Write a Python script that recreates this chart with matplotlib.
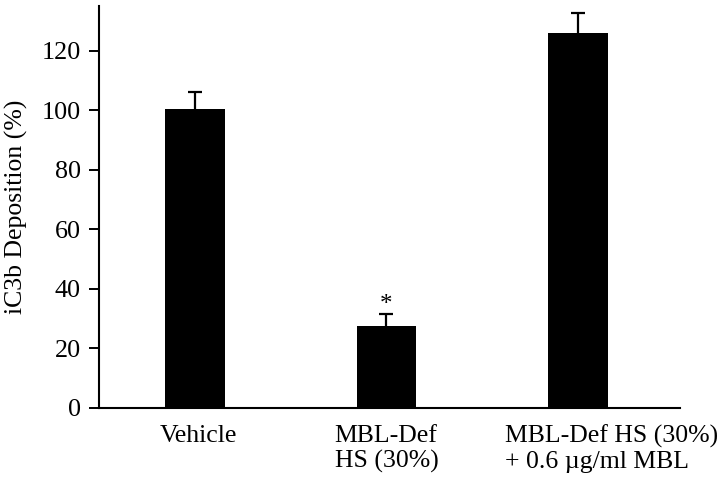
import numpy as np
import matplotlib
matplotlib.use("Agg")
import matplotlib.pyplot as plt
import matplotlib.transforms as mtransforms

# iC3b deposition
groups = ["Vehicle", "MBL-Def\nHS (30%)", "MBL-Def HS (30%)\n+ 0.6 \u00b5g/ml MBL"]
means = [100.3, 27.6, 126.0]
errs = [5.9, 4.0, 6.8]
signif = [False, True, False]

plt.rcParams['font.family'] = ['Liberation Serif', 'DejaVu Serif']

fig = plt.figure(figsize=(7.2, 4.83), dpi=100)
ax = fig.add_axes([0.1375, 0.1553, 0.8065, 0.8323])

x = np.arange(len(groups))
ax.bar(x, means, width=0.31, color='black', zorder=3)
eb = ax.errorbar(x, means, yerr=[np.zeros(len(errs)), errs], fmt='none',
                 ecolor='black', elinewidth=1.6, capsize=4.8, capthick=1.6,
                 zorder=2)
# only the upper whisker is shown
eb[1][0].set_visible(False)

for xi, m, e, s in zip(x, means, errs, signif):
    if s:
        ax.text(xi, m + e - 0.8, "*", ha='center', va='bottom', fontsize=18)

ax.set_xlim(-0.5, 2.53)
ax.set_ylim(0, 135)
ax.set_yticks(np.arange(0, 121, 20))
ax.set_xticks(x)
ax.set_xticklabels(groups, fontsize=18.5, multialignment='left')
ax.tick_params(axis='y', labelsize=18.8, length=7, width=1.4, direction='out', pad=6)
ax.tick_params(axis='x', length=0, pad=12)
ax.set_ylabel("iC3b Deposition (%)", fontsize=18.5, labelpad=10)

# last label sits to the right of its bar in the original
lab = ax.get_xticklabels()[-1]
lab.set_transform(lab.get_transform() +
                  mtransforms.ScaledTranslation(0.33, 0, fig.dpi_scale_trans))
lab0 = ax.get_xticklabels()[0]
lab0.set_transform(lab0.get_transform() +
                   mtransforms.ScaledTranslation(0.04, 0, fig.dpi_scale_trans))

for side in ['top', 'right']:
    ax.spines[side].set_visible(False)
for side in ['left', 'bottom']:
    ax.spines[side].set_linewidth(1.5)

fig.savefig("out.png", dpi=100)
